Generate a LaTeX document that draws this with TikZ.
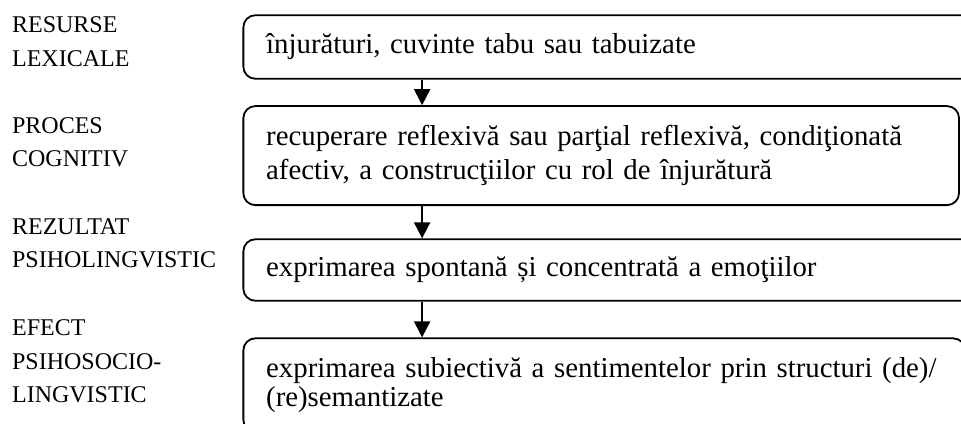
\documentclass[tikz,border=0pt]{standalone}
\usepackage{fontspec}
\setmainfont{Liberation Serif}
\usetikzlibrary{arrows.meta}

\begin{document}
\begin{tikzpicture}[
    itembox/.style={rectangle, draw, rounded corners=5pt, line width=0.75pt,
                    anchor=north west, align=left, inner xsep=9.5pt,
                    inner ysep=2pt, font=\fontsize{12}{14}\selectfont},
    rowtitle/.style={anchor=base west, align=left, inner sep=0pt,
                     font=\fontsize{10}{14}\selectfont},
    flow/.style={-{Triangle[width=6.7pt,length=6.7pt]}, line width=0.75pt}]
    \useasboundingbox (0,0) rectangle (14.07,-6.20);
    \clip (0,0) rectangle (14.07,-6.20);
    \coordinate (flowaxis) at (6.18,0);

    % Resurse lexicale

    \node (resurse) [rowtitle] at (0.17,-0.97) {RESURSE\\LEXICALE};
    \node (injuraturi) [itembox, text width=10.13cm, minimum height=0.93cm]
          at (3.55,-0.21) {înjurături, cuvinte tabu sau tabuizate};

    % Proces cognitiv

    \node (proces) [rowtitle] at (0.17,-2.44) {PROCES\\COGNITIV};
    \node (recuperare) [itembox, text width=9.81cm, minimum height=1.45cm]
          at (3.55,-1.54) {recuperare reflexivă sau parţial reflexivă, condiţionată\\
                           afectiv, a construcţiilor cu rol de înjurătură};
    \draw[flow] (injuraturi.south -| flowaxis) -- (recuperare.north -| flowaxis);

    % Rezultat psiholingvistic

    \node (rezultat) [rowtitle] at (0.17,-3.92) {REZULTAT\\PSIHOLINGVISTIC};
    \node (exprimare) [itembox, text width=10.13cm, minimum height=0.90cm]
          at (3.55,-3.49) {exprimarea spontană și concentrată a emoţiilor};
    \draw[flow] (recuperare.south -| flowaxis) -- (exprimare.north -| flowaxis);

    % Efect psihosociolingvistic

    \node (efect) [rowtitle] at (0.17,-5.90) {EFECT\\PSIHOSOCIO-\\LINGVISTIC};
    \node (subiectiva) [itembox, text width=9.90cm, minimum height=1.37cm,
                        font=\fontsize{12}{11.8}\selectfont]
          at (3.55,-4.94) {exprimarea subiectivă a sentimentelor prin structuri (de)/\\
                           (re)semantizate};
    \draw[flow] (exprimare.south -| flowaxis) -- (subiectiva.north -| flowaxis);
\end{tikzpicture}
\end{document}
